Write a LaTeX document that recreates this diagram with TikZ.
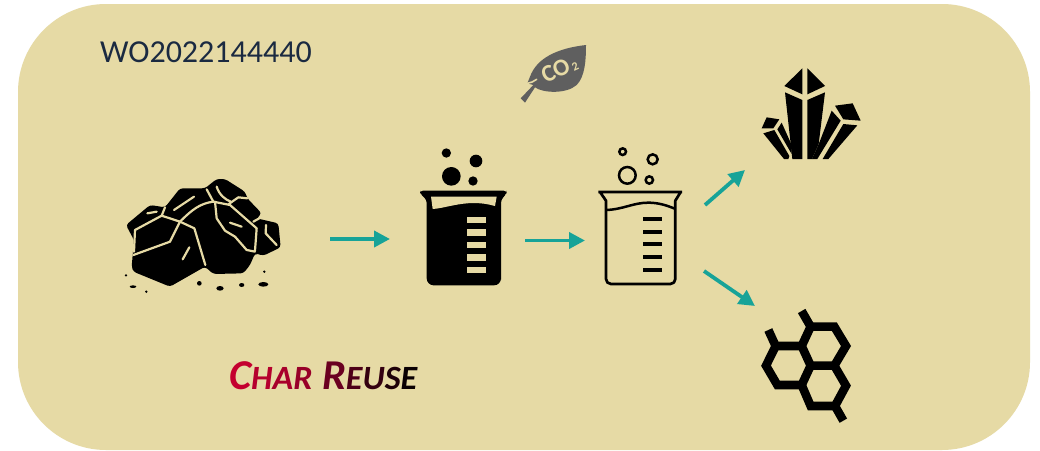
\documentclass[tikz,border=0pt]{standalone}
\usepackage{fontspec}
\setmainfont{Carlito}
\usetikzlibrary{arrows.meta}
\definecolor{panel}{HTML}{E6DAA5}
\definecolor{teal1}{HTML}{17A398}
\definecolor{navy}{HTML}{1B2A41}
\definecolor{leafgrey}{HTML}{5F5F5F}
\tikzset{
  flow/.style={draw=teal1,line width=3.8pt,-{Triangle[length=16pt,width=16pt]}},
  crack/.style={draw=panel,line width=2.2pt,line cap=round,line join=round},
  ink/.style={fill=black,draw=none},
  outl/.style={draw=black,line width=2.7pt,line join=round},
  hexl/.style={draw=black,line width=8.6pt,line join=miter,line cap=butt},
}
\begin{document}
\begin{tikzpicture}[x=1pt,y=-1pt]
\useasboundingbox (0,0) rectangle (1040,450);
\fill[white] (0,0) rectangle (1040,450);
\fill[panel,rounded corners=88pt] (18,4) rectangle (1030,450);

\node[anchor=west,text=navy,font=\fontsize{32}{32}\selectfont,inner sep=0pt] (patent) at (100,52) {WO2022144440};

% title, letter by letter
\node[anchor=west,inner sep=0pt,font=\bfseries\itshape] (title) at (229,376) {%
  \fontsize{42.5}{42.5}\selectfont\textcolor[HTML]{C4002F}{C}%
  \fontsize{34}{34}\selectfont\textcolor[HTML]{B5002D}{H}\textcolor[HTML]{A8002B}{A}\textcolor[HTML]{980029}{R}%
  \fontsize{42.5}{42.5}\selectfont\ \textcolor[HTML]{6A0020}{R}%
  \fontsize{34}{34}\selectfont\textcolor[HTML]{4E0018}{E}\textcolor[HTML]{340010}{U}\textcolor[HTML]{1E0008}{S}\textcolor[HTML]{0A0003}{E}};

% rocks
\begin{scope}[shift={(100,160)},scale=1/3]
\fill[black,rounded corners=3pt] (78,195) -- (150,135) -- (195,142) -- (240,85) -- (315,85) -- (350,57) -- (375,57) -- (435,95) -- (442,115) -- (485,160) -- (470,175) -- (535,190) -- (542,262) -- (490,287) -- (465,280) -- (450,315) -- (430,340) -- (340,342) -- (315,320) -- (210,380) -- (100,335) -- (95,320) -- (102,240) -- cycle;
\draw[crack] (100,285) -- (210,245) -- (240,185) -- (283,205) -- (316,315);
\draw[crack] (102,275) -- (105,210) -- (185,167) -- (240,185);
\draw[crack] (185,167) -- (195,142);
\draw[crack] (240,185) .. controls (275,150) and (300,130) .. (340,125) -- (390,135) -- (470,205) -- (465,272);
\draw[crack] (340,125) -- (320,88);
\draw[crack] (345,125) -- (350,175) -- (375,212) -- (405,230) -- (440,270) -- (465,275);
\draw[crack] (350,80) .. controls (358,105) and (375,118) .. (392,125);
\draw[crack] (385,133) -- (415,112) -- (442,115);
\draw[crack] (460,185) -- (490,168);
\draw[crack] (498,195) -- (497,220) -- (530,255);
\draw[crack] (142,160) -- (170,155);
\draw[crack] (222,150) -- (282,110);
\draw[crack] (390,188) -- (425,200);
\draw[crack] (268,262) -- (248,298);
\fill (78,346) circle[radius=4];
\fill (99,380) ellipse[x radius=10,y radius=4];
\fill (139,395) circle[radius=4];
\fill (298,370) ellipse[x radius=7,y radius=7];
\fill (360,385) ellipse[x radius=11,y radius=7];
\fill (425,375) ellipse[x radius=8,y radius=6];
\fill (490,373) ellipse[x radius=15,y radius=7];
\fill (493,335) circle[radius=4];
\end{scope}

% beakers
\begin{scope}[shift={(400,130)},scale=1/3]
\fill[black] (139,69) circle[radius=14] (228,93) circle[radius=19] (154,139) circle[radius=28] (219,153) circle[radius=14];
\fill[black,rounded corners=3pt] (60,182) -- (320,182) -- (320,190) -- (303,210) -- (303,440) [rounded corners=7pt] -- (303,466) -- (80,466) [rounded corners=3pt] -- (80,210) -- (60,190) -- cycle;
\fill[panel] (93,200) -- (290,200) -- (285,228) .. controls (240,215) and (200,218) .. (160,226) .. controls (130,232) and (115,236) .. (98,237) -- cycle;
\foreach \yy in {261,298,335,373,410} \fill[panel] (200,\yy) rectangle (257,\yy+19);

\draw[black,line width=2.5pt] (668,65) circle[radius=10] (758,88) circle[radius=15] (682,136) circle[radius=25] (748,150) circle[radius=11];
\draw[outl] (595,186) -- (846,186) (600,186) -- (618,212) -- (618,445) [rounded corners=5pt] -- (618,462) -- (826,462) [sharp corners] -- (826,445) -- (826,212) -- (842,186);
\draw[black,line width=2.5pt] (619,240) .. controls (670,238) and (700,218) .. (745,218) .. controls (775,218) and (800,226) .. (824,236);
\foreach \yy in {267,306,342,381,420} \fill[black] (729,\yy-5.5) rectangle (786,\yy+5.5);
\end{scope}

% crystals
\begin{scope}[shift={(740,50)},scale=1/3]
\fill[ink] (187,55) -- (133,108) -- (187,133) -- cycle;
\fill[ink] (202,55) -- (255,108) -- (202,133) -- cycle;
\fill[ink] (135,127) -- (187,150) -- (187,327) -- (157,327) -- cycle;
\fill[ink] (202,150) -- (255,127) -- (236,282) -- (216,327) -- (202,327) -- cycle;
\fill[ink] (285,167) -- (338,160) -- (362,212) -- (310,208) -- cycle;
\fill[ink] (275,182) -- (302,212) -- (232,327) -- (216,327) -- (237,280) -- cycle;
\fill[ink] (310,222) -- (352,226) -- (265,327) -- (248,327) -- cycle;
\fill[ink] (80,202) -- (118,208) -- (100,235) -- (65,235) -- cycle;
\fill[ink] (125,218) -- (155,285) -- (155,312) -- (112,238) -- cycle;
\fill[ink] (70,250) -- (103,240) -- (148,318) -- (145,327) -- (132,327) -- cycle;
\end{scope}

% hexagons
\begin{scope}[shift={(740,300)},scale=1/3]
\draw[hexl] (212,80) -- (283,80) -- (318,138) -- (283,197) -- (212,197) -- (185,138) -- cycle;
\draw[hexl] (185,138) -- (107,138) -- (78,197) -- (112,255) -- (185,255) -- (212,197);
\draw[hexl] (283,197) -- (318,257) -- (285,318) -- (212,318) -- (185,255);
\draw[hexl] (212,80) -- (185,33);
\draw[hexl] (107,138) -- (85,90);
\draw[hexl] (285,318) -- (310,362);
\end{scope}

% leaf
\begin{scope}[shift={(500,30)},scale=1/3]
\fill[leafgrey] (258,45) .. controls (170,55) and (110,85) .. (90,140) -- (82,160) -- (100,165) -- (62,205) -- (75,218) -- (105,172) .. controls (130,190) and (200,192) .. (230,165) .. controls (255,140) and (258,90) .. (258,45) -- cycle;
\draw[panel,line width=1.6pt,line cap=round] (82,160) .. controls (92,158) and (102,155) .. (110,148);
\node[rotate=25,text=panel,font=\bfseries\fontsize{24}{24}\selectfont,inner sep=0pt] (co) at (178,118) {CO\hspace{2pt}\raisebox{-1pt}{\fontsize{12}{12}\selectfont 2}};
\end{scope}

% connectors
\coordinate (a1) at (330,239); \coordinate (a2) at (390,239);
\coordinate (b1) at (525,240.5); \coordinate (b2) at (585,240.5);
\coordinate (c1) at (705,205); \coordinate (c2) at (745,170);
\coordinate (d1) at (704,271); \coordinate (d2) at (755,306);
\draw[flow] (a1) -- (a2);
\draw[flow] (b1) -- (b2);
\draw[flow] (c1) -- (c2);
\draw[flow] (d1) -- (d2);
\end{tikzpicture}
\end{document}
